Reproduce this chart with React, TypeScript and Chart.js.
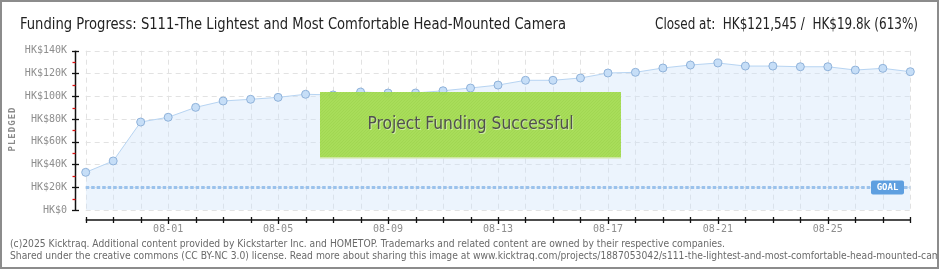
import React, { useEffect, useRef } from "react";
import { Chart, registerables } from "chart.js";

Chart.register(...registerables);

const dates = [
  "07-29", "07-30", "07-31",
  "08-01", "08-02", "08-03", "08-04", "08-05", "08-06", "08-07", "08-08", "08-09", "08-10",
  "08-11", "08-12", "08-13", "08-14", "08-15", "08-16", "08-17", "08-18", "08-19", "08-20",
  "08-21", "08-22", "08-23", "08-24", "08-25", "08-26", "08-27", "08-28",
];
const pledged = [
  33100, 43100, 77300, 81500, 90200, 95800, 97300, 99000, 101700, 101100,
  103700, 102800, 102800, 104800, 107200, 109800, 114000, 114000, 116000, 120400,
  121000, 124800, 127400, 129200, 126500, 126500, 125900, 125900, 123000, 124500,
  121545,
];
const goal = 19800;
const yTicks = [0, 20000, 40000, 60000, 80000, 100000, 120000, 140000];
const yTickLabels = ["HK$0", "HK$20K", "HK$40K", "HK$60K", "HK$80K", "HK$100K", "HK$120K", "HK$140K"];
const labeledDates = ["08-01", "08-05", "08-09", "08-13", "08-17", "08-21", "08-25"];

const titleText = "Funding Progress: S111-The Lightest and Most Comfortable Head-Mounted Camera";
const closedText = "Closed at:  HK$121,545 /  HK$19.8k (613%)";
const successText = "Project Funding Successful";
const footer1 =
  "(c)2025 Kicktraq. Additional content provided by Kickstarter Inc. and HOMETOP. Trademarks and related content are owned by their respective companies.";
const footer2 =
  "Shared under the creative commons (CC BY-NC 3.0) license. Read more about sharing this image at www.kicktraq.com/projects/1887053042/s111-the-lightest-and-most-comfortable-head-mounted-camera/";

const NARROW = "'Liberation Sans Narrow', 'DejaVu Sans Condensed', 'Liberation Sans', sans-serif";
const MONO = "'DejaVu Sans Mono', monospace";

const decorPlugin = {
  id: "decor",
  beforeDraw(chart: any) {
    const ctx = chart.ctx as CanvasRenderingContext2D;
    const { width, height } = chart;
    ctx.save();
    ctx.fillStyle = "#ffffff";
    ctx.fillRect(0, 0, width, height);
    ctx.restore();
  },
  beforeDatasetsDraw(chart: any) {
    const ctx = chart.ctx as CanvasRenderingContext2D;
    const xs = chart.scales.x;
    const ys = chart.scales.y;
    const area = chart.chartArea;
    ctx.save();
    ctx.strokeStyle = "#e2e2e2";
    ctx.lineWidth = 1;
    ctx.setLineDash([5, 4]);
    yTicks.forEach((v) => {
      const y = Math.round(ys.getPixelForValue(v)) + 0.5;
      ctx.beginPath();
      ctx.moveTo(area.left, y);
      ctx.lineTo(area.right, y);
      ctx.stroke();
    });
    dates.forEach((_, i) => {
      const x = Math.round(xs.getPixelForValue(i)) + 0.5;
      ctx.beginPath();
      ctx.moveTo(x, area.top);
      ctx.lineTo(x, area.bottom);
      ctx.stroke();
    });
    ctx.setLineDash([]);
    ctx.restore();
  },
  afterDatasetsDraw(chart: any) {
    const ctx = chart.ctx as CanvasRenderingContext2D;
    const ys = chart.scales.y;
    const area = chart.chartArea;
    ctx.save();

    // goal line
    const gy = ys.getPixelForValue(goal);
    const labelL = 871, labelR = 904;
    ctx.strokeStyle = "#9bc2ec";
    ctx.lineWidth = 3;
    ctx.setLineDash([3.5, 2]);
    ctx.beginPath();
    ctx.moveTo(area.left, gy);
    ctx.lineTo(labelL, gy);
    ctx.moveTo(labelR, gy);
    ctx.lineTo(area.right, gy);
    ctx.stroke();
    ctx.setLineDash([]);
    ctx.fillStyle = "#5e9fe0";
    ctx.beginPath();
    (ctx as any).roundRect(labelL, gy - 7, labelR - labelL, 14, 2);
    ctx.fill();
    ctx.fillStyle = "#ffffff";
    ctx.font = "bold 9px " + MONO;
    ctx.textAlign = "center";
    ctx.textBaseline = "middle";
    ctx.fillText("GOAL", (labelL + labelR) / 2, gy);

    // success box
    const bx = 320, by = 92, bw = 301, bh = 65;
    ctx.fillStyle = "rgba(163, 218, 78, 0.93)";
    ctx.fillRect(bx, by, bw, bh);
    ctx.save();
    ctx.beginPath();
    ctx.rect(bx, by, bw, bh);
    ctx.clip();
    ctx.strokeStyle = "rgba(140, 200, 60, 0.25)";
    ctx.lineWidth = 1;
    for (let k = -bh; k < bw; k += 3) {
      ctx.beginPath();
      ctx.moveTo(bx + k, by + bh);
      ctx.lineTo(bx + k + bh, by);
      ctx.stroke();
    }
    ctx.restore();
    ctx.fillStyle = "#cde6a0";
    ctx.fillRect(bx, by + bh, bw, 1.5);
    ctx.font = "18px " + NARROW;
    ctx.textAlign = "center";
    ctx.textBaseline = "middle";
    ctx.fillStyle = "rgba(255,255,255,0.45)";
    ctx.fillText(successText, bx + bw / 2 + 1, by + bh / 2 + 1, 206);
    ctx.fillStyle = "#505050";
    ctx.fillText(successText, bx + bw / 2, by + bh / 2, 206);

    ctx.restore();
  },
  afterDraw(chart: any) {
    const ctx = chart.ctx as CanvasRenderingContext2D;
    const xs = chart.scales.x;
    const ys = chart.scales.y;
    const area = chart.chartArea;
    ctx.save();

    // y axis
    const ax = 75.5;
    ctx.strokeStyle = "#111111";
    ctx.lineWidth = 1.5;
    ctx.beginPath();
    ctx.moveTo(ax, ys.getPixelForValue(140000));
    ctx.lineTo(ax, ys.getPixelForValue(0));
    ctx.stroke();
    ctx.lineWidth = 1.3;
    yTicks.forEach((v) => {
      const y = Math.round(ys.getPixelForValue(v)) + 0.5;
      ctx.beginPath();
      ctx.moveTo(72, y);
      ctx.lineTo(79, y);
      ctx.stroke();
    });
    ctx.strokeStyle = "#e01010";
    for (let i = 0; i < yTicks.length - 1; i++) {
      const y = Math.round(ys.getPixelForValue((yTicks[i] + yTicks[i + 1]) / 2)) + 0.5;
      ctx.beginPath();
      ctx.moveTo(72.5, y);
      ctx.lineTo(75.5, y);
      ctx.stroke();
    }
    ctx.fillStyle = "#8e8e8e";
    ctx.font = "10px " + MONO;
    ctx.textAlign = "right";
    ctx.textBaseline = "middle";
    yTicks.forEach((v, i) => {
      ctx.fillText(yTickLabels[i], 67, ys.getPixelForValue(v));
    });

    ctx.save();
    ctx.translate(13, 129);
    ctx.rotate(-Math.PI / 2);
    ctx.font = "bold 9px " + MONO;
    (ctx as any).letterSpacing = "1px";
    ctx.textAlign = "center";
    ctx.textBaseline = "middle";
    ctx.fillStyle = "#8a8a8a";
    ctx.fillText("PLEDGED", 0, 0);
    ctx.restore();

    // x axis
    const axy = 220;
    ctx.strokeStyle = "#111111";
    ctx.lineWidth = 1.5;
    ctx.beginPath();
    ctx.moveTo(area.left, axy);
    ctx.lineTo(area.right, axy);
    ctx.stroke();
    ctx.lineWidth = 1.3;
    dates.forEach((d, i) => {
      const x = Math.round(xs.getPixelForValue(i)) + 0.5;
      const big = labeledDates.includes(d);
      ctx.beginPath();
      ctx.moveTo(x, axy - 3);
      ctx.lineTo(x, axy + (big ? 4 : 3));
      ctx.stroke();
    });
    ctx.fillStyle = "#8e8e8e";
    ctx.font = "10px " + MONO;
    ctx.textAlign = "center";
    ctx.textBaseline = "middle";
    dates.forEach((d, i) => {
      if (labeledDates.includes(d)) ctx.fillText(d, xs.getPixelForValue(i), 229);
    });

    // title
    ctx.fillStyle = "#222222";
    ctx.font = "16px " + NARROW;
    ctx.textAlign = "left";
    ctx.textBaseline = "alphabetic";
    ctx.fillText(titleText, 20, 29, 546);
    ctx.textAlign = "right";
    ctx.fillText(closedText, 918, 29, 263);

    // footer
    ctx.fillStyle = "#6a6a6a";
    ctx.font = "10px 'DejaVu Sans', sans-serif";
    ctx.textAlign = "left";
    const w1 = ctx.measureText(footer1).width;
    const sx = 715 / w1;
    ctx.save();
    ctx.beginPath();
    ctx.rect(0, 230, 937, 38);
    ctx.clip();
    ctx.translate(10, 0);
    ctx.scale(sx, 1);
    ctx.fillText(footer1, 0, 247);
    ctx.fillText(footer2, 0, 259);
    ctx.restore();

    ctx.strokeStyle = "#8c8c8c";
    ctx.lineWidth = 2;
    ctx.strokeRect(1, 1, 937, 267);

    ctx.restore();
  },
};

export default function App() {
  const ref = useRef<HTMLCanvasElement | null>(null);
  useEffect(() => {
    if (!ref.current) return;
    const chart = new Chart(ref.current, {
      type: "line",
      data: {
        labels: dates,
        datasets: [
          {
            data: pledged,
            borderColor: "#b7d4f2",
            borderWidth: 1,
            backgroundColor: "rgba(205, 226, 250, 0.38)",
            fill: "origin",
            tension: 0,
            pointRadius: 4,
            pointBackgroundColor: "#c6def7",
            pointBorderColor: "#8fb2da",
            pointBorderWidth: 1,
            clip: false as any,
          },
        ],
      },
      options: {
        animation: false,
        responsive: false,
        events: [],
        layout: { padding: { left: 85.7, right: 29.7, top: 50.7, bottom: 60 } },
        plugins: { legend: { display: false }, tooltip: { enabled: false } },
        scales: {
          x: { type: "category", display: false, offset: false },
          y: { type: "linear", display: false, min: 0, max: 140000 },
        },
      },
      plugins: [decorPlugin],
    });
    return () => chart.destroy();
  }, []);
  return (
    <div style={{ position: "fixed", left: 0, top: 0, width: 940, height: 270 }}>
      <canvas ref={ref} width={940} height={270} style={{ display: "block" }} />
    </div>
  );
}
